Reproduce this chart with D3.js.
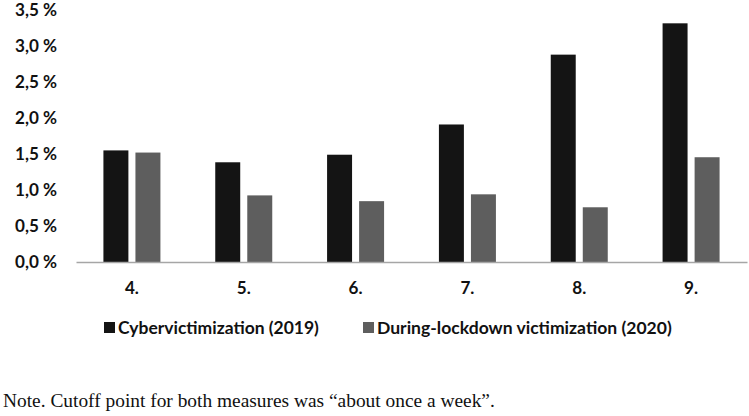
<!DOCTYPE html>
<html><head><meta charset="utf-8">
<script src="https://cdn.jsdelivr.net/npm/d3@7"></script>
<style>body{margin:0;background:#fff;} svg{display:block;}</style>
</head><body>
<svg id="chart" width="749" height="416"></svg>
<script>
const categories = ["4.", "5.", "6.", "7.", "8.", "9."];
const cyber2019 = [1.55, 1.385, 1.49, 1.91, 2.88, 3.315];
const lockdown2020 = [1.52, 0.925, 0.845, 0.94, 0.76, 1.455];
const seriesNames = ["Cybervictimization (2019)", "During-lockdown victimization (2020)"];
const seriesColors = ["#141414", "#5e5e5e"];
const yTicks = [0, 0.5, 1.0, 1.5, 2.0, 2.5, 3.0, 3.5];
const note = "Note. Cutoff point for both measures was \u201cabout once a week\u201d.";

const svg = d3.select("#chart");
const font = "Lato, 'Open Sans', sans-serif";

// fit a text element to a target width by adjusting font-size
function fit(sel, target) {
  sel.each(function() {
    const fs = parseFloat(this.getAttribute("font-size"));
    const w = this.getComputedTextLength();
    if (w > 0) this.setAttribute("font-size", (fs * target / w).toFixed(2));
  });
}

const x = d3.scaleBand().domain(categories).range([76, 747]).paddingInner(0).paddingOuter(0);
const y = d3.scaleLinear().domain([0, 3.5]).range([262, 10]);
const xs = d3.scaleBand().domain([0, 1]).range([x.bandwidth()/2 - 28.5, x.bandwidth()/2 + 28.5]).paddingInner(0.22);

// y tick labels
const fmt = v => d3.format(".1f")(v).replace(".", ",") + " %";
const yAxis = d3.axisLeft(y).tickValues(yTicks).tickFormat(fmt).tickSize(0).tickPadding(0);
const gy = svg.append("g").attr("transform", "translate(57,0)").call(yAxis);
gy.select(".domain").remove();
gy.selectAll("text").attr("font-family", font).attr("font-size", 16).attr("font-weight", "bold").attr("fill", "#111");
fit(gy.selectAll("text").filter(d => d === 3.5), 42);
const tickFs = gy.selectAll("text").filter(d => d === 3.5).attr("font-size");
gy.selectAll("text").attr("font-size", tickFs);

// bars
const data = categories.map((c, i) => ({c, vals: [cyber2019[i], lockdown2020[i]]}));
const groups = svg.append("g").selectAll("g").data(data).join("g")
  .attr("transform", d => `translate(${x(d.c)},0)`);
groups.selectAll("rect").data(d => d.vals.map((v, k) => ({v, k}))).join("rect")
  .attr("x", d => xs(d.k)).attr("width", xs.bandwidth())
  .attr("y", d => y(d.v)).attr("height", d => y(0) - y(d.v))
  .attr("fill", d => seriesColors[d.k]);

// x axis
const xAxis = d3.axisBottom(x).tickSize(0).tickPadding(0);
const gx = svg.append("g").attr("transform", `translate(0,${y(0)})`).call(xAxis);
gx.select(".domain").attr("stroke", "#a6a6a6").attr("stroke-width", 1.5);
gx.selectAll("text").attr("font-family", font).attr("font-size", tickFs).attr("font-weight", "bold").attr("fill", "#111")
  .attr("dy", null).attr("y", 32);

// legend
const legendX = [104, 363];
const legendW = [201, 295];
const lg = svg.append("g").selectAll("g").data(seriesNames).join("g")
  .attr("transform", (d, i) => `translate(${legendX[i]},322)`);
lg.append("rect").attr("width", 11).attr("height", 11).attr("fill", (d, i) => seriesColors[i]);
lg.append("text").attr("x", 14).attr("y", 11.5).text(d => d)
  .attr("font-family", font).attr("font-size", 16).attr("font-weight", "bold").attr("fill", "#111")
  .each(function(d, i) { fit(d3.select(this), legendW[i]); });

// note
const nt = svg.append("text").attr("x", 3).attr("y", 407).text(note)
  .attr("font-family", "'Liberation Serif', 'Times New Roman', serif").attr("font-size", 18).attr("fill", "#111");
fit(nt, 492);
</script>
</body></html>
